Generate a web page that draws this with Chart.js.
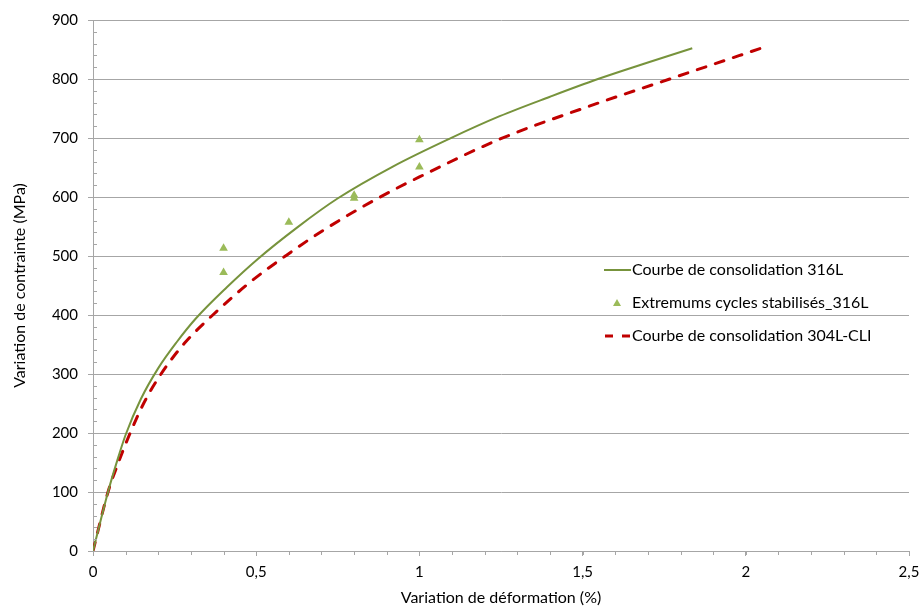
<!DOCTYPE html>
<html>
<head>
<meta charset="utf-8">
<script src="https://cdn.jsdelivr.net/npm/chart.js@4.4.1/dist/chart.umd.min.js"></script>
<style>
  html, body { margin: 0; padding: 0; background: #fff; }
  #wrap { width: 921px; height: 607px; }
</style>
</head>
<body>
<div id="wrap"><canvas id="chart" width="921" height="607"></canvas></div>
<script>
// strain (%) vs stress range (MPa)
const strain316 = [0, 0.046, 0.073, 0.1, 0.147, 0.2, 0.255, 0.315, 0.41, 0.505, 0.627, 0.748, 0.92, 1.093, 1.246, 1.4, 1.547, 1.7, 1.836];
const stress316 = [0, 100, 151, 197, 258, 310, 353, 394, 447, 495, 549, 597, 652, 699, 737, 770, 800, 828, 852];

const strainPts = [0.4, 0.4, 0.6, 0.8, 0.8, 1.0, 1.0];
const stressPts = [513, 472, 557, 598, 603, 697, 651];

const strain304 = [0, 0.046, 0.078, 0.11, 0.155, 0.206, 0.28, 0.367, 0.48, 0.592, 0.704, 0.873, 1.0, 1.246, 1.5, 1.767, 2.046];
const stress304 = [0, 100, 150, 195, 250, 298, 352, 400, 455, 501, 543, 598, 634, 698, 750, 800, 852];

const xTicks = [0, 0.5, 1, 1.5, 2, 2.5];
const yTicks = [0, 100, 200, 300, 400, 500, 600, 700, 800, 900];

const legendLabels = [
    'Courbe de consolidation 316L',
    'Extremums cycles stabilisés_316L',
    'Courbe de consolidation 304L-CLI'
];

const GREEN = '#77933C';
const MARKER = '#9BBB59';
const RED = '#C00000';
const AXIS = '#A6A6A6';
const FONT = 'Lato, "Open Sans", sans-serif';

const toXY = (xs, ys) => xs.map((x, i) => ({ x: x, y: ys[i] }));
const comma = v => String(v).replace('.', ',');

// minor ticks + legend drawn on top
const extras = {
    id: 'extras',
    afterDraw(chart) {
        const { ctx, chartArea, scales } = chart;
        const xs = scales.x, ys = scales.y;
        ctx.save();
        ctx.strokeStyle = AXIS;
        ctx.lineWidth = 1;
        ctx.beginPath();
        for (let v = 0; v <= 900; v += 20) {
            const py = Math.round(ys.getPixelForValue(v)) + 0.5;
            ctx.moveTo(chartArea.left, py);
            ctx.lineTo(chartArea.left + 4, py);
        }
        for (let k = 0; k <= 25; k++) {
            const px = Math.round(xs.getPixelForValue(k / 10)) + 0.5;
            ctx.moveTo(px, chartArea.bottom);
            ctx.lineTo(px, chartArea.bottom + 4);
        }
        ctx.stroke();

        // legend
        const lx = chartArea.left + 511;
        const rows = [270, 303, 336];
        ctx.font = '16px ' + FONT;
        ctx.textBaseline = 'middle';
        ctx.textAlign = 'left';

        ctx.strokeStyle = GREEN;
        ctx.lineWidth = 2;
        ctx.beginPath();
        ctx.moveTo(lx, rows[0]);
        ctx.lineTo(lx + 27, rows[0]);
        ctx.stroke();

        ctx.fillStyle = MARKER;
        ctx.beginPath();
        ctx.moveTo(lx + 13, rows[1] - 4);
        ctx.lineTo(lx + 17, rows[1] + 3);
        ctx.lineTo(lx + 9, rows[1] + 3);
        ctx.closePath();
        ctx.fill();

        ctx.strokeStyle = RED;
        ctx.lineWidth = 3;
        ctx.beginPath();
        ctx.moveTo(lx + 1, rows[2]);
        ctx.lineTo(lx + 9, rows[2]);
        ctx.moveTo(lx + 18, rows[2]);
        ctx.lineTo(lx + 26, rows[2]);
        ctx.stroke();

        ctx.fillStyle = '#000';
        ctx.fillText(legendLabels[0], lx + 28, rows[0]);
        ctx.fillText(legendLabels[1], lx + 28, rows[1]);
        ctx.fillText(legendLabels[2], lx + 28, rows[2]);
        ctx.restore();
    }
};

new Chart(document.getElementById('chart').getContext('2d'), {
    type: 'scatter',
    data: {
        datasets: [
            {
                label: legendLabels[0],
                data: toXY(strain316, stress316),
                showLine: true,
                borderColor: GREEN,
                borderWidth: 2,
                pointRadius: 0,
                cubicInterpolationMode: 'monotone',
                order: 2
            },
            {
                label: legendLabels[1],
                data: toXY(strainPts, stressPts),
                showLine: false,
                pointStyle: 'triangle',
                pointRadius: 5,
                backgroundColor: MARKER,
                borderColor: MARKER,
                borderWidth: 0,
                order: 1
            },
            {
                label: legendLabels[2],
                data: toXY(strain304, stress304),
                showLine: true,
                borderColor: RED,
                borderWidth: 3,
                borderDash: [9, 10],
                borderCapStyle: 'round',
                pointRadius: 0,
                cubicInterpolationMode: 'monotone',
                order: 3
            }
        ]
    },
    options: {
        responsive: false,
        animation: false,
        layout: { padding: { top: 20, right: 12, left: 0, bottom: 0 } },
        plugins: {
            legend: { display: false },
            tooltip: { enabled: false }
        },
        scales: {
            x: {
                type: 'linear',
                min: 0,
                max: 2.5,
                afterBuildTicks: s => { s.ticks = xTicks.map(v => ({ value: v })); },
                afterFit: s => { s.height = 56; s.paddingRight = 0; s.paddingLeft = 0; },
                grid: { drawOnChartArea: false, drawTicks: true, tickLength: 5, color: AXIS },
                border: { display: true, color: AXIS },
                ticks: {
                    color: '#000',
                    font: { family: FONT, size: 15 },
                    padding: 7,
                    maxRotation: 0,
                    callback: v => comma(v)
                },
                title: {
                    display: true,
                    text: 'Variation de déformation (%)',
                    color: '#000',
                    font: { family: FONT, size: 16 },
                    padding: { top: 0, bottom: 0 }
                }
            },
            y: {
                type: 'linear',
                min: 0,
                max: 900,
                afterBuildTicks: s => { s.ticks = yTicks.map(v => ({ value: v })); },
                afterFit: s => { s.width = 93; },
                grid: { drawOnChartArea: true, drawTicks: true, tickLength: 5, color: AXIS },
                border: { display: true, color: AXIS },
                ticks: {
                    color: '#000',
                    font: { family: FONT, size: 15 },
                    padding: 10
                },
                title: {
                    display: true,
                    text: 'Variation de contrainte (MPa)',
                    color: '#000',
                    font: { family: FONT, size: 16 },
                    padding: { top: 10, bottom: 0 }
                }
            }
        }
    },
    plugins: [extras]
});
</script>
</body>
</html>
